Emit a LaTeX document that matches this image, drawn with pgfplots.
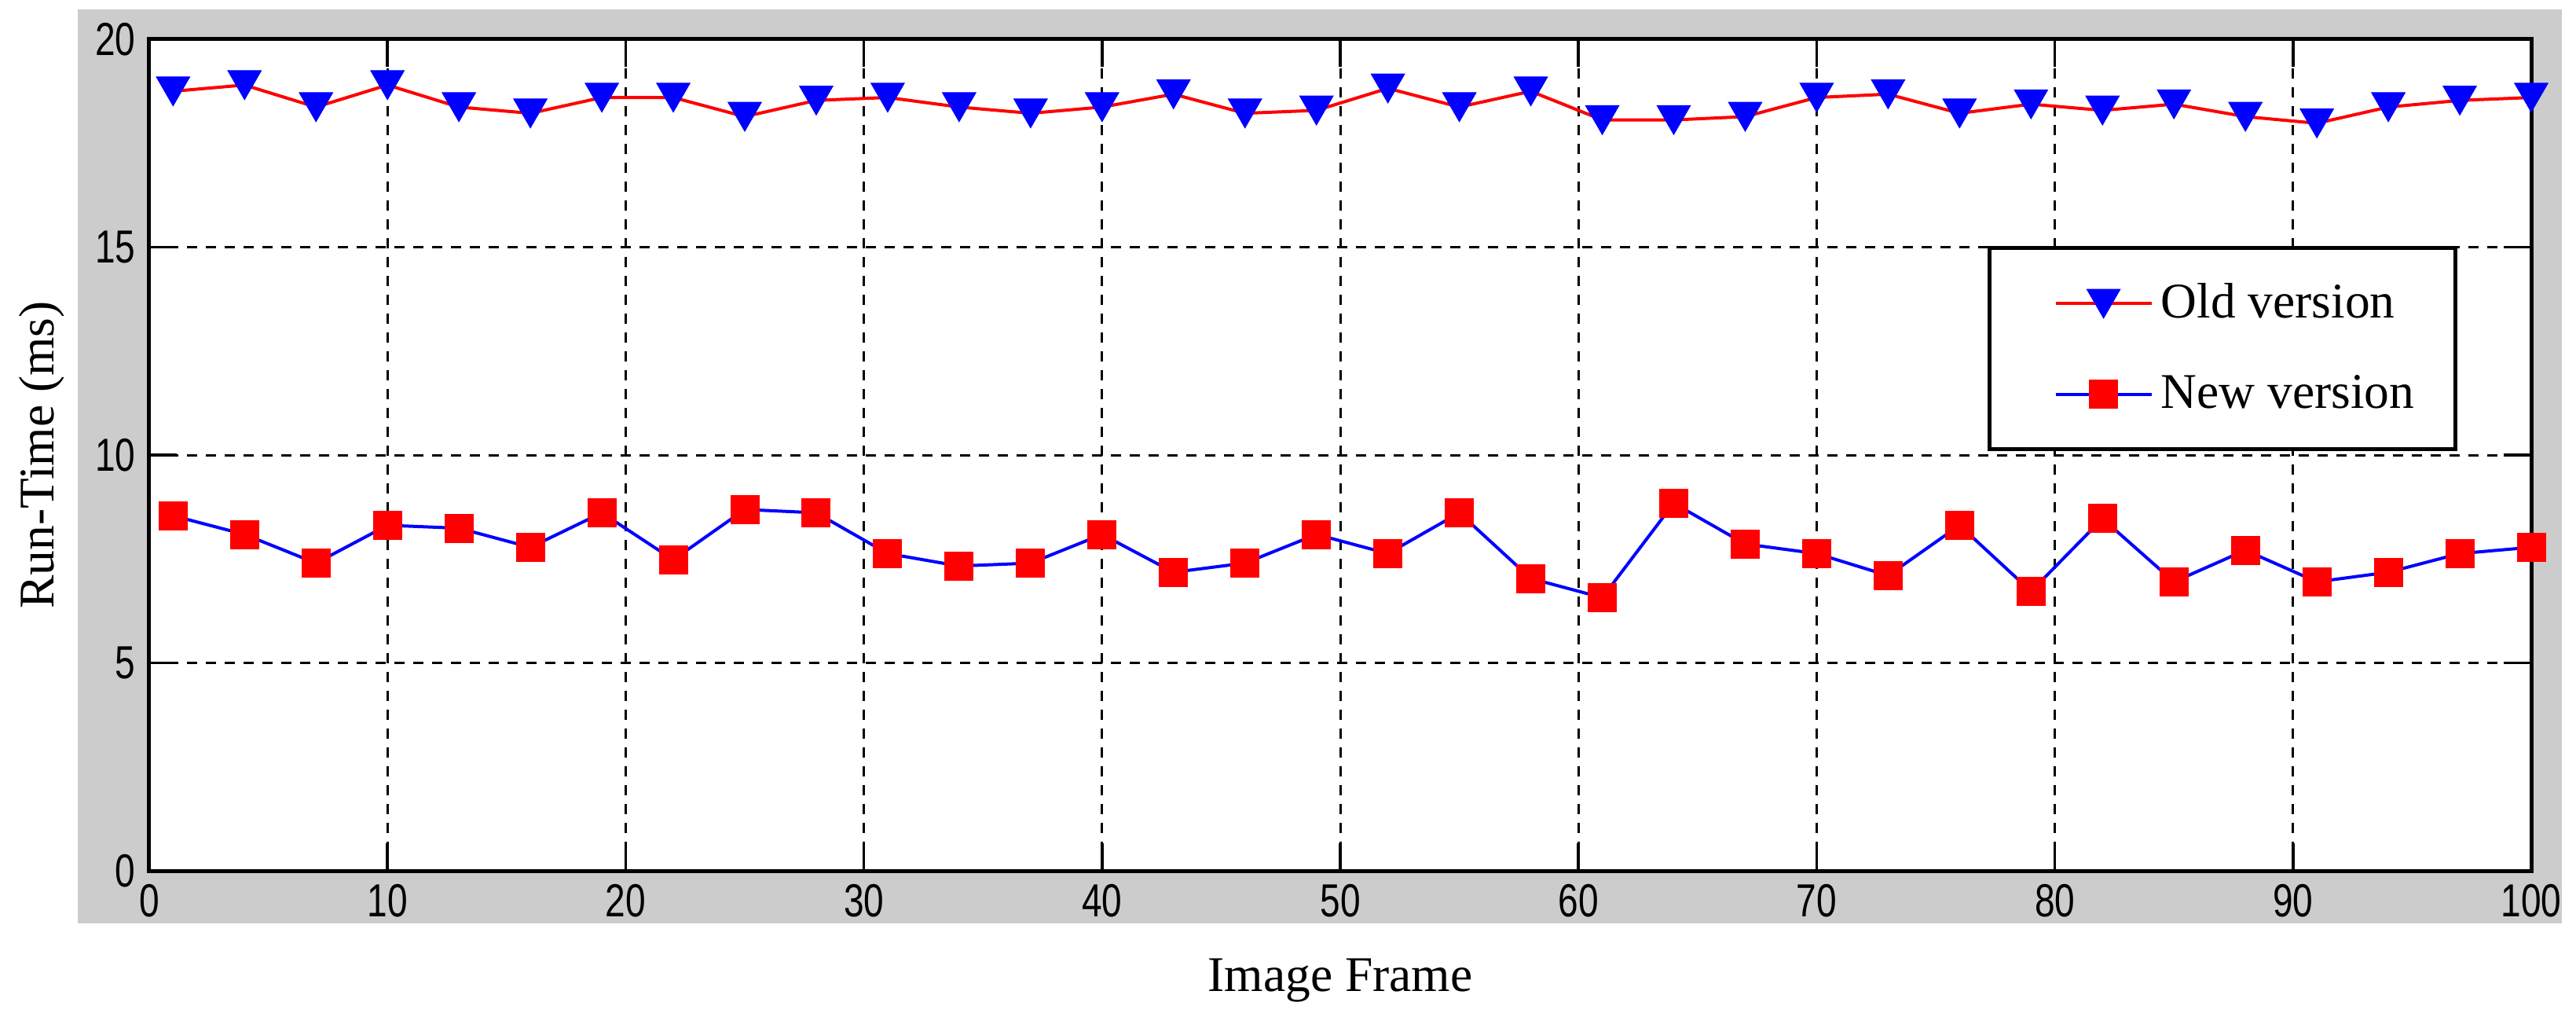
\documentclass[border=0pt]{standalone}
\usepackage{fontspec}
\setmainfont{Liberation Serif}
\newfontfamily\tickfont[FakeStretch=0.78]{Liberation Sans}
\usepackage{pgfplots}
\pgfplotsset{compat=1.18}
\definecolor{figgray}{RGB}{204,204,204}

\begin{document}
\begin{tikzpicture}
\fill[white] (0,0) rectangle (655.8pt,257.6pt);
\fill[figgray] (19.8pt,22.6pt) rectangle (652.2pt,255.2pt);
\begin{axis}[
  at={(38pt,36pt)}, anchor=south west,
  scale only axis, width=606.4pt, height=211.6pt,
  xmin=0, xmax=100, ymin=0, ymax=20,
  xtick={0,10,...,100}, ytick={0,5,...,20},
  axis background/.style={fill=white},
  grid=major,
  major grid style={black, line width=0.6pt, dash pattern=on 2.6pt off 2.2pt},
  tick align=inside, major tick length=7pt,
  tick style={black, line width=0.7pt},
  axis line style={black, line width=1pt},
  /pgf/number format/assume math mode=true,
  ticklabel style={font=\tickfont\fontsize{11.8}{12}\selectfont},
  xlabel={Image Frame}, ylabel={Run-Time (ms)},
  label style={font=\fontsize{12.7}{15}\selectfont},
  xlabel style={at={(axis description cs:0.5,-0.1323)}, anchor=center},
  ylabel style={at={(axis description cs:-0.0452,0.5)}, anchor=center},
  legend image code/.code={\path (-8pt,0pt); \draw[mark repeat=2,mark phase=2,#1] plot coordinates {(0pt,0pt) (12.2pt,0pt) (24.4pt,0pt)};},
  legend style={at={(0.7718,0.7514)}, anchor=north west, draw=black, line width=1pt, fill=white,
    font=\fontsize{12.7}{15}\selectfont, inner xsep=8.4pt, inner ysep=7pt, row sep=9pt,
    nodes={inner sep=2pt}},
  legend cell align=left,
]
\addplot[red, line width=0.8pt, mark=triangle*, mark size=4.9pt,
  mark options={blue, fill=blue, solid, line width=0.2pt, yshift=1.2pt, rotate=180}] coordinates {
(1,18.75) (4,18.90) (7,18.37) (10,18.90) (13,18.37) (16,18.22) (19,18.60) (22,18.60)
(25,18.14) (28,18.53) (31,18.60) (34,18.37) (37,18.22) (40,18.37) (43,18.68) (46,18.22)
(49,18.29) (52,18.82) (55,18.37) (58,18.75) (61,18.06) (64,18.06) (67,18.14) (70,18.60)
(73,18.68) (76,18.22) (79,18.44) (82,18.29) (85,18.44) (88,18.14) (91,17.98) (94,18.37)
(97,18.53) (100,18.60)
};
\addlegendentry{Old version}
\addplot[blue, line width=0.8pt, mark=square*, mark size=3.6pt,
  mark options={red, fill=red, solid, line width=0.2pt}] coordinates {
(1,8.54) (4,8.09) (7,7.40) (10,8.31) (13,8.24) (16,7.78) (19,8.61) (22,7.48)
(25,8.69) (28,8.61) (31,7.63) (34,7.33) (37,7.40) (40,8.09) (43,7.18) (46,7.40)
(49,8.09) (52,7.63) (55,8.61) (58,7.03) (61,6.57) (64,8.84) (67,7.86) (70,7.63)
(73,7.10) (76,8.31) (79,6.72) (82,8.47) (85,6.95) (88,7.71) (91,6.95) (94,7.18)
(97,7.63) (100,7.78)
};
\addlegendentry{New version}
\end{axis}
\pgfresetboundingbox
\path (0,0) rectangle (655.8pt,257.6pt);
\end{tikzpicture}
\end{document}
